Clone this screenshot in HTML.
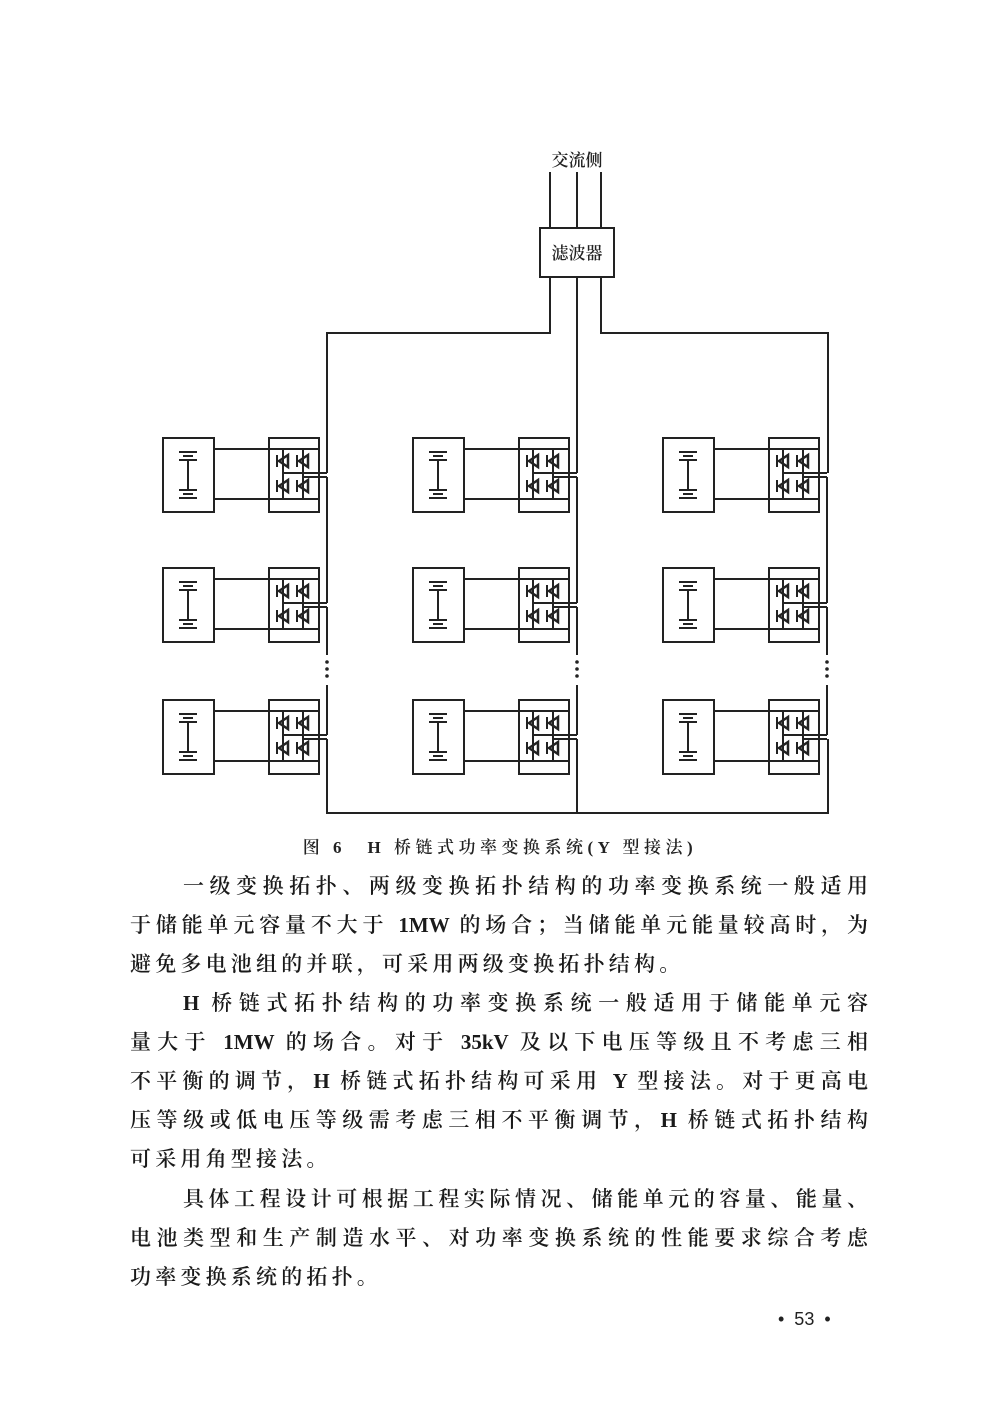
<!DOCTYPE html>
<html><head><meta charset="utf-8">
<style>
html,body{margin:0;padding:0;background:#fff;}
body{width:1000px;height:1428px;position:relative;overflow:hidden;}
svg{position:absolute;left:0;top:0;}
.t{position:absolute;left:130px;width:738px;font-family:"Liberation Serif","Noto Serif CJK SC",serif;font-size:21px;font-weight:600;color:#1a1a1a;white-space:nowrap;line-height:26px;}
.j{text-align:justify;text-align-last:justify;}
.cap{position:absolute;left:0;width:1000px;text-align:center;top:833px;font-family:"Liberation Serif","Noto Serif CJK SC",serif;font-size:17px;letter-spacing:4.5px;font-weight:600;color:#222;}
.lab{font-family:"Liberation Serif","Noto Serif CJK SC",serif;font-size:17px;font-weight:600;fill:#222;}
</style></head>
<body>
<svg id="d" width="1000" height="830" viewBox="0 0 1000 830" fill="none" stroke="#222" stroke-width="2">
<text class="lab" x="577" y="166" text-anchor="middle" stroke="none">交流侧</text>
<line x1="550" y1="172" x2="550" y2="228"/>
<line x1="577" y1="172" x2="577" y2="228"/>
<line x1="601" y1="172" x2="601" y2="228"/>
<rect x="540" y="228" width="74" height="49"/>
<text class="lab" x="577" y="259" text-anchor="middle" stroke="none">滤波器</text>
<polyline points="550,277 550,333 327,333 327,473"/>
<line x1="577" y1="277" x2="577" y2="473"/>
<polyline points="601,277 601,333 828,333 828,473"/>
<polyline points="327,739 327,813 828,813 828,739"/>
<line x1="577" y1="739" x2="577" y2="813"/>
</svg>
<script>
var s=document.getElementById('d'),h='';
function L(a,b,c,d){h+='<line x1="'+a+'" y1="'+b+'" x2="'+c+'" y2="'+d+'"/>';}
function mod(bx,y){
 var cx=bx+106,bus=cx+58,m=bx+25;
 h+='<rect x="'+bx+'" y="'+y+'" width="51" height="74"/>';
 L(m-9,y+14,m+9,y+14);L(m-5,y+18,m+5,y+18);L(m-9,y+22,m+9,y+22);
 L(m,y+22,m,y+52);
 L(m-9,y+52,m+9,y+52);L(m-5,y+56,m+5,y+56);L(m-9,y+60,m+9,y+60);
 L(bx+51,y+11,cx+50,y+11);L(bx+51,y+61,cx+50,y+61);
 h+='<rect x="'+cx+'" y="'+y+'" width="50" height="74"/>';
 var l1=cx+14,l2=cx+34;
 L(l1,y+11,l1,y+61);L(l2,y+11,l2,y+61);
 [[l1,y+23],[l2,y+23],[l1,y+48],[l2,y+48]].forEach(function(p){
  var x=p[0],yy=p[1];
  h+='<polygon points="'+(x+5)+','+(yy-6)+' '+(x-4)+','+yy+' '+(x+5)+','+(yy+6)+'" stroke-width="2.5"/>';
  L(x-6,yy-6,x-6,yy+6);
 });
 L(l1,y+35,bus,y+35);L(l2,y+39,bus,y+39);
}
var cols=[163,413,663],rows=[438,568,700];
cols.forEach(function(c){rows.forEach(function(r){mod(c,r);});
 var bus=c+164;
 L(bus,477,bus,603);L(bus,607,bus,655);L(bus,685,bus,735);
 h+='<g fill="#222" stroke="none"><circle cx="'+bus+'" cy="662" r="1.8"/><circle cx="'+bus+'" cy="669" r="1.8"/><circle cx="'+bus+'" cy="676" r="1.8"/></g>';
});
s.insertAdjacentHTML('beforeend',h);
</script>
<div class="cap">图 6　H 桥链式功率变换系统(Y 型接法)</div>
<div class="t j" style="top:873px;padding-left:53px;width:685px">一级变换拓扑、两级变换拓扑结构的功率变换系统一般适用</div>
<div class="t j" style="top:912px">于储能单元容量不大于 1MW 的场合；当储能单元能量较高时，为</div>
<div class="t" style="top:951px;letter-spacing:4.2px">避免多电池组的并联，可采用两级变换拓扑结构。</div>
<div class="t j" style="top:990px;padding-left:53px;width:685px">H 桥链式拓扑结构的功率变换系统一般适用于储能单元容</div>
<div class="t j" style="top:1029px">量大于 1MW 的场合。对于 35kV 及以下电压等级且不考虑三相</div>
<div class="t j" style="top:1068px">不平衡的调节，H 桥链式拓扑结构可采用 Y 型接法。对于更高电</div>
<div class="t j" style="top:1107px">压等级或低电压等级需考虑三相不平衡调节，H 桥链式拓扑结构</div>
<div class="t" style="top:1146px;letter-spacing:4.2px">可采用角型接法。</div>
<div class="t j" style="top:1186px;padding-left:53px;width:685px">具体工程设计可根据工程实际情况、储能单元的容量、能量、</div>
<div class="t j" style="top:1225px">电池类型和生产制造水平、对功率变换系统的性能要求综合考虑</div>
<div class="t" style="top:1264px;letter-spacing:4.2px">功率变换系统的拓扑。</div>
<div style="position:absolute;left:778px;top:1309px;font-family:'Liberation Sans',sans-serif;font-size:18px;color:#222;">•&nbsp; 53 &nbsp;•</div>
</body></html>
